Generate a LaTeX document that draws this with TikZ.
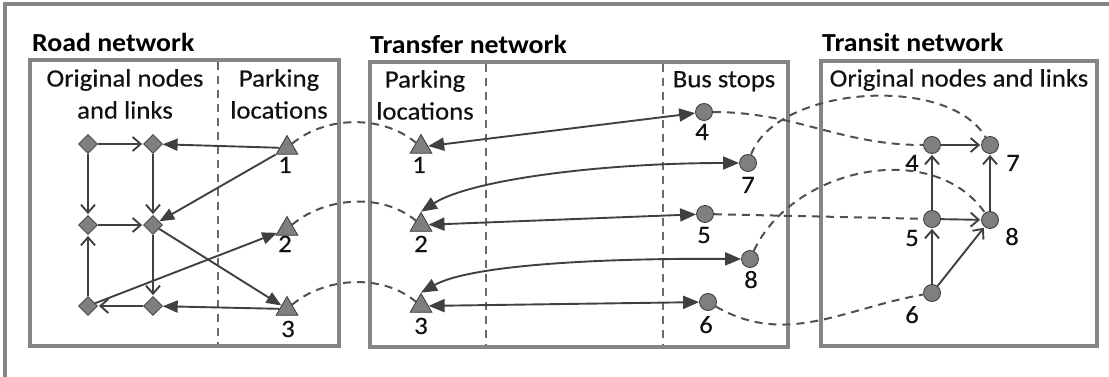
\documentclass[tikz,border=0pt]{standalone}
\usepackage{fontspec}
\setmainfont{Carlito}[FakeStretch=1.07,UprightFeatures={FakeBold=0.35}]
\usetikzlibrary{arrows.meta,shapes.geometric}

\definecolor{framegray}{HTML}{858585}
\definecolor{dashgray}{HTML}{505050}
\definecolor{linegray}{HTML}{404040}
\definecolor{nodefill}{HTML}{7F7F7F}
\definecolor{nodeedge}{HTML}{3A3A3A}
\definecolor{textgray}{HTML}{111111}

\begin{document}
\begin{tikzpicture}[x=1pt,y=1pt,
  font=\fontsize{25}{32}\selectfont,
  frame/.style={draw=framegray,line width=3.5pt},
  divider/.style={draw=dashgray!85,line width=1.6pt,dash pattern=on 8pt off 6pt},
  transferlink/.style={draw=dashgray,line width=2pt,dash pattern=on 8pt off 6pt},
  title/.style={font=\fontsize{26}{30}\selectfont\bfseries,anchor=base west,inner sep=0pt,text=black},
  header/.style={align=center,anchor=north,inner sep=0pt,text=textgray},
  num/.style={anchor=base,inner sep=0pt,text=textgray},
  diam/.style={diamond,draw=nodeedge,fill=nodefill,minimum width=19pt,minimum height=19pt,inner sep=0pt,line width=0.8pt},
  tri/.style={regular polygon,regular polygon sides=3,draw=nodeedge,fill=nodefill,minimum size=25pt,inner sep=0pt,line width=0.8pt},
  stop/.style={circle,draw=nodeedge,fill=nodefill,minimum size=17pt,inner sep=0pt,line width=0.8pt},
  link/.style={draw=linegray,line width=1.9pt,-{Straight Barb[length=8pt,width=14pt]},shorten >=1pt},
  access/.style={draw=linegray,line width=1.9pt,-{Triangle[length=15pt,width=12pt]}},
  dual/.style={draw=linegray,line width=1.9pt,{Triangle[length=16pt,width=13pt]}-{Triangle[length=16pt,width=13pt]}}
]
\useasboundingbox (0,0) rectangle (1109,-377);

% outer frame (top and left edges)
\draw[frame] (5,-377) -- (5,-4) -- (1109,-4);

% ---------------- road network ----------------
\node[title] (troad) at (32,-52) {Road network};
\draw[frame] (30,-60) rectangle (339,-346);
\draw[divider] (218,-62) -- (218,-344);
\node[header] (hroad1) at (125,-69) {Original nodes\\and links};
\node[header] (hroad2) at (279,-69) {Parking\\locations};

\node[diam] (d11) at (88,-144) {};
\node[diam] (d12) at (153,-144) {};
\node[diam] (d21) at (88,-225) {};
\node[diam] (d22) at (153,-225) {};
\node[diam] (d31) at (88,-306) {};
\node[diam] (d32) at (153,-306) {};

\node[tri] (r1) at (287,-148) {};
\node[tri] (r2) at (287,-229) {};
\node[tri] (r3) at (287,-309) {};
\node[num] (lr1) at (285,-173) {1};
\node[num] (lr2) at (285,-252) {2};
\node[num] (lr3) at (288,-337) {3};

\draw[link] (d11) -- (d12);
\draw[link] (d11) -- (d21);
\draw[link] (d12) -- (d22);
\draw[link] (d21) -- (d22);
\draw[link] (d31) -- (d21);
\draw[link] (d22) -- (d32);
\draw[link] (d32) -- (d31);

\draw[access] (r1) -- (d12);
\draw[access] (r1) -- (d22);
\draw[access] (d22) -- (r3);
\draw[access] (d31) -- (r2);
\draw[access] (r3) -- (d32);

% ---------------- transfer network ----------------
\node[title] (ttransfer) at (370,-54) {Transfer network};
\draw[frame] (370,-62) rectangle (788,-347);
\draw[divider] (486,-64) -- (486,-345);
\draw[divider] (663,-64) -- (663,-345);
\node[header] (htr1) at (425,-70) {Parking\\locations};
\node[header] (htr2) at (724,-71) {Bus stops};

\node[tri] (p1) at (421,-147) {};
\node[tri] (p2) at (421,-225) {};
\node[tri] (p3) at (421,-306) {};
\node[num] (lp1) at (419,-173) {1};
\node[num] (lp2) at (421,-252) {2};
\node[num] (lp3) at (421,-334) {3};

\node[stop] (b4) at (704,-112) {};
\node[stop] (b7) at (748,-163) {};
\node[stop] (b5) at (705,-214) {};
\node[stop] (b8) at (750,-259) {};
\node[stop] (b6) at (708,-302) {};
\node[num] (lb4) at (702,-140) {4};
\node[num] (lb7) at (748,-193) {7};
\node[num] (lb5) at (704,-243) {5};
\node[num] (lb8) at (751,-288) {8};
\node[num] (lb6) at (706,-333) {6};

\draw[dual] (p1) -- (b4);
\draw[dual] (p2.north) .. controls (470,-180) and (600,-163) .. (b7.west);
\draw[dual] (p2) -- (b5);
\draw[dual] (p3.north) .. controls (470,-265) and (600,-258) .. (b8.west);
\draw[dual] (p3) -- (b6);

% ---------------- transit network ----------------
\node[title] (ttransit) at (822,-52) {Transit network};
\draw[frame] (821,-61) rectangle (1097,-346);
\node[header] (htransit) at (959,-69) {Original nodes and links};

\node[stop] (s4) at (932,-145) {};
\node[stop] (s7) at (990,-145) {};
\node[stop] (s5) at (932,-219) {};
\node[stop] (s8) at (990,-220) {};
\node[stop] (s6) at (932,-293) {};
\node[num] (ls4) at (912,-171) {4};
\node[num] (ls7) at (1013,-171) {7};
\node[num] (ls5) at (912,-246) {5};
\node[num] (ls8) at (1012,-245) {8};
\node[num] (ls6) at (912,-323) {6};

\draw[link] (s4) -- (s7);
\draw[link] (s5) -- (s4);
\draw[link] (s8) -- (s7);
\draw[link] (s5) -- (s8);
\draw[link] (s6) -- (s5);
\draw[link] (s6) -- (s8);

% ---------------- dashed correspondences ----------------
\draw[transferlink] (r1) to[out=40,in=140,looseness=0.9] (p1);
\draw[transferlink] (r2) to[out=40,in=140,looseness=0.9] (p2);
\draw[transferlink] (r3) to[out=40,in=140,looseness=0.9] (p3);
\draw[transferlink] (b4) to[out=0,in=180] (s4);
\draw[transferlink] (b7) to[out=70,in=120,looseness=0.8] (s7);
\draw[transferlink] (b5) -- (s5);
\draw[transferlink] (b8) to[out=65,in=125] (s8);
\draw[transferlink] (b6) to[out=-30,in=190] (s6);
\end{tikzpicture}
\end{document}
